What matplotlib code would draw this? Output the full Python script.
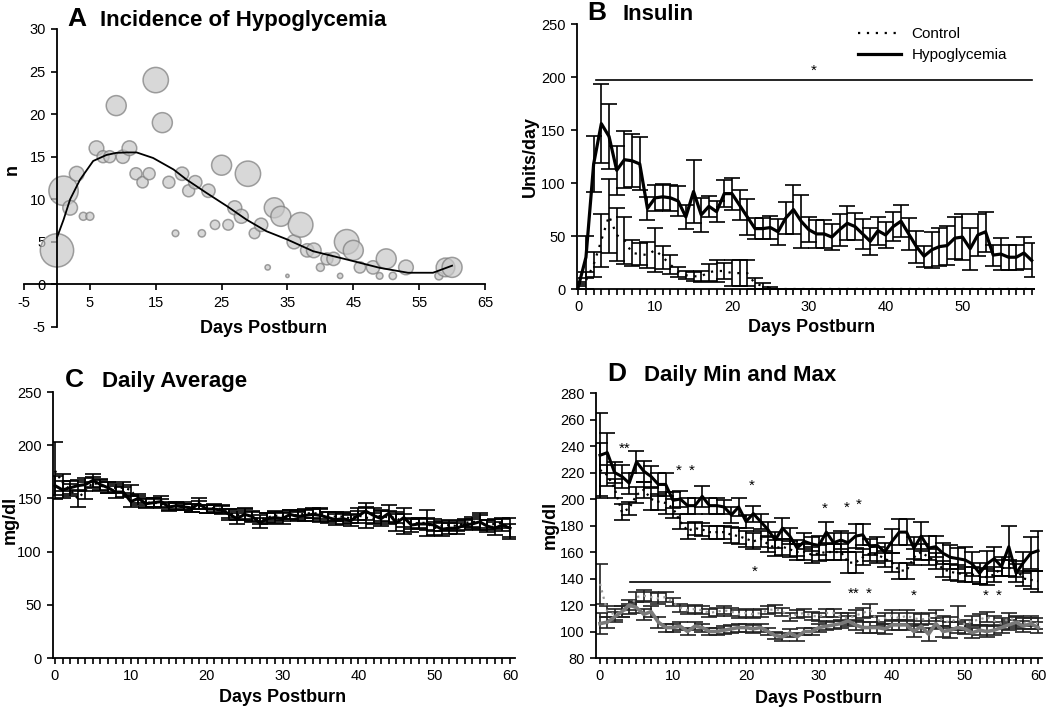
import numpy as np
import matplotlib
matplotlib.use('Agg')
import matplotlib.pyplot as plt
from matplotlib.ticker import MultipleLocator
from matplotlib.lines import Line2D

plt.rcParams['font.family'] = ['Liberation Sans', 'DejaVu Sans']
plt.rcParams['axes.unicode_minus'] = False

# ---- A: incidence of hypoglycemia (bubble chart) ----
bubble_x = [0, 1, 2, 3, 4, 5, 6, 7, 8, 9, 10, 11, 12, 13, 14, 15, 16, 17, 18, 19,
            20, 21, 22, 23, 24, 25, 26, 27, 28, 29, 30, 31, 32, 33, 34, 35, 36, 37, 38, 39,
            40, 41, 42, 43, 44, 45, 46, 48, 49, 50, 51, 53, 58, 59, 60]
bubble_y = [4, 11, 9, 13, 8, 8, 16, 15, 15, 21, 15, 16, 13, 12, 13, 24, 19, 12, 6, 13,
            11, 12, 6, 11, 7, 14, 7, 9, 8, 13, 6, 7, 2, 9, 8, 1, 5, 7, 4, 4,
            2, 3, 3, 1, 5, 4, 2, 2, 1, 3, 1, 2, 1, 2, 2]
bubble_size = [50, 44, 22, 22, 12, 12, 22, 18, 18, 30, 20, 22, 18, 17, 18, 38, 30, 18, 10, 20,
               18, 20, 11, 20, 14, 30, 16, 21, 21, 38, 16, 20, 8, 30, 30, 5, 21, 37, 20, 22,
               12, 18, 20, 8, 37, 30, 17, 20, 10, 30, 11, 22, 12, 28, 30]
trend_x = [0, 1, 2, 3.5, 5.5, 7.5, 9, 10.6, 12.1, 14.6, 17.7, 19.7, 22.7, 25.8, 28.8,
           31.8, 34.9, 38.9, 44, 49, 53.3, 57.1, 60]
trend_y = [5.5, 7.6, 10, 12.3, 14.5, 15.2, 15.45, 15.5, 15.5, 14.85, 13.5, 12.3, 10.75, 9.2, 7.6,
           6.25, 5.3, 3.9, 2.93, 1.95, 1.37, 1.37, 2.2]

# ---- B: insulin ----
days_b = np.arange(60)
insulin_hypo = [2, 30, 118, 156, 144, 112, 122, 121, 118, 76, 86, 87, 86, 83, 68, 92, 70, 78, 73, 90,
                90, 79, 68, 57, 57, 58, 54, 67, 75, 64, 56, 52, 52, 49, 56, 62, 59, 52, 45, 55,
                51, 59, 64, 52, 40, 31, 37, 40, 41, 48, 49, 38, 51, 54, 32, 33, 30, 30, 34, 27]
insulin_hypo_err = [3, 20, 26, 37, 31, 23, 27, 25, 25, 11, 12, 12, 12, 14, 11, 30, 16, 10, 10, 13,
                    15, 14, 17, 10, 10, 11, 12, 15, 23, 25, 12, 13, 13, 12, 15, 16, 13, 14, 13, 13,
                    12, 14, 15, 15, 15, 10, 17, 18, 18, 20, 22, 20, 20, 19, 10, 15, 12, 12, 15, 16]
insulin_ctrl = [5, 8, 23, 46, 69, 51, 46, 34, 33, 32, 37, 30, 23, 16, 13, 12, 12, 16, 17, 17,
                15, 15, 15, 5, 3, 1] + [0] * 34
insulin_ctrl_err = [2, 8, 12, 25, 35, 25, 22, 12, 10, 12, 21, 11, 9, 5, 4, 4, 5, 8, 10, 8,
                    12, 12, 12, 5, 3, 1] + [0] * 34

# ---- C: daily average ----
days_c = np.arange(61)
avg_hypo = [162, 158, 160, 162, 163, 167, 163, 160, 156, 156, 147, 150, 145, 146, 147, 142, 143, 142, 141, 145,
            140, 140, 139, 135, 131, 135, 133, 127, 131, 132, 131, 135, 133, 134, 135, 134, 132, 130, 131, 129,
            134, 138, 134, 131, 136, 127, 132, 125, 126, 126, 125, 121, 122, 122, 125, 126, 128, 124, 122, 125, 122]
avg_hypo_err = [9, 8, 6, 5, 6, 6, 5, 5, 6, 5, 5, 4, 4, 4, 5, 4, 3, 3, 4, 5,
                4, 4, 4, 5, 5, 5, 5, 5, 5, 5, 5, 4, 4, 5, 6, 6, 5, 5, 5, 5,
                7, 8, 7, 7, 8, 8, 9, 7, 5, 6, 6, 6, 5, 5, 5, 5, 6, 6, 6, 6, 10]
avg_ctrl = [176, 165, 158, 150, 157, 165, 162, 160, 160, 160, 158, 148, 146, 146, 145, 143, 143, 143, 141, 144,
            140, 141, 140, 136, 134, 136, 133, 130, 132, 134, 133, 135, 134, 136, 136, 136, 133, 133, 133, 131,
            134, 132, 131, 134, 132, 132, 126, 126, 127, 127, 122, 124, 125, 124, 127, 128, 128, 125, 126, 127, 120]
avg_ctrl_err = [27, 8, 6, 8, 8, 5, 5, 5, 4, 5, 5, 4, 4, 4, 4, 4, 4, 4, 4, 4,
                4, 4, 4, 4, 4, 5, 4, 4, 4, 4, 4, 4, 4, 4, 4, 5, 4, 4, 4, 4,
                4, 10, 5, 5, 6, 5, 9, 5, 5, 12, 6, 5, 5, 5, 4, 5, 8, 5, 5, 5, 6]

# ---- D: daily min and max ----
max_hypo = [233, 235, 220, 217, 212, 228, 221, 217, 211, 211, 199, 200, 195, 195, 202, 195, 195, 194, 188, 194,
            183, 189, 183, 177, 169, 178, 172, 163, 168, 166, 165, 175, 167, 169, 167, 172, 173, 164, 165, 160,
            168, 175, 175, 163, 172, 163, 164, 159, 156, 155, 154, 151, 144, 151, 155, 149, 164, 144, 152, 159, 161]
max_hypo_err = [32, 15, 8, 9, 8, 8, 8, 8, 9, 9, 6, 6, 6, 6, 8, 6, 6, 5, 6, 7,
                5, 6, 6, 6, 6, 8, 6, 6, 6, 5, 7, 8, 7, 7, 7, 9, 8, 6, 6, 7,
                9, 10, 10, 8, 11, 9, 8, 8, 9, 8, 10, 9, 8, 10, 9, 7, 16, 7, 8, 12, 15]
max_ctrl = [222, 218, 208, 190, 193, 203, 207, 200, 198, 197, 193, 183, 176, 178, 177, 175, 175, 175, 173, 172,
            170, 168, 170, 166, 163, 164, 162, 160, 160, 158, 159, 160, 160, 160, 152, 152, 156, 159, 158, 155,
            152, 146, 146, 156, 160, 156, 153, 147, 145, 144, 143, 143, 142, 141, 143, 148, 148, 147, 140, 139, 138]
max_ctrl_err = [20, 8, 7, 6, 5, 6, 6, 8, 6, 8, 7, 6, 6, 5, 5, 5, 5, 5, 6, 6,
                6, 6, 6, 6, 6, 6, 6, 6, 6, 6, 6, 6, 6, 6, 8, 8, 6, 6, 6, 6,
                7, 6, 6, 6, 6, 6, 6, 6, 6, 6, 6, 6, 6, 6, 6, 6, 6, 6, 6, 7, 8]
min_ctrl = [136, 115, 113, 115, 117, 126, 127, 126, 125, 126, 122, 118, 116, 117, 116, 114, 115, 116, 115, 113,
            114, 113, 114, 116, 117, 115, 111, 113, 114, 112, 111, 114, 114, 111, 110, 112, 114, 116, 108, 110,
            112, 110, 112, 110, 109, 110, 112, 108, 107, 110, 105, 108, 109, 111, 108, 106, 110, 108, 106, 108, 106]
min_ctrl_err = [15, 4, 4, 4, 4, 4, 4, 4, 4, 4, 3, 3, 3, 3, 3, 3, 3, 3, 3, 3,
                3, 3, 3, 3, 3, 3, 3, 3, 3, 3, 3, 3, 3, 3, 4, 4, 4, 5, 4, 4,
                4, 4, 4, 4, 4, 4, 4, 4, 4, 9, 4, 4, 4, 4, 4, 4, 4, 4, 4, 4, 4]
min_hypo = [106, 107, 111, 115, 120, 118, 113, 115, 107, 103, 103, 104, 100, 104, 103, 100, 100, 101, 102, 103,
            103, 102, 103, 100, 97, 96, 99, 96, 100, 100, 103, 104, 105, 106, 108, 105, 103, 103, 103, 102,
            105, 105, 105, 100, 104, 98, 106, 100, 101, 103, 102, 99, 101, 100, 101, 103, 105, 107, 104, 106, 103]
min_hypo_err = [8, 4, 4, 4, 4, 4, 4, 4, 4, 3, 3, 3, 3, 3, 3, 3, 3, 3, 3, 3,
                3, 3, 3, 3, 3, 3, 3, 3, 3, 3, 3, 3, 3, 3, 4, 4, 4, 4, 4, 4,
                4, 4, 4, 4, 4, 5, 4, 4, 6, 4, 4, 4, 4, 4, 4, 4, 4, 4, 4, 4, 4]

# significance marks in D: (day, value, text)
sig_d = [(3.4, 233, '**'), (10.8, 216, '*'), (12.5, 216, '*'), (20.8, 205, '*'),
         (30.8, 187, '*'), (33.8, 188, '*'), (35.4, 190, '*'), (21.2, 140, '*'),
         (34.7, 123, '**'), (36.8, 123, '*'), (43.0, 122, '*'), (52.9, 122, '*'), (54.6, 122, '*')]

fig = plt.figure(figsize=(10.5, 7.07), dpi=100)


def style(ax):
    for s in ['top', 'right']:
        ax.spines[s].set_visible(False)
    for s in ['left', 'bottom']:
        ax.spines[s].set_linewidth(1.3)
    ax.tick_params(which='both', direction='out', length=4.5, width=1.2, labelsize=10.5)


def label(ax, x, y, s, rot=0):
    ax.text(x, y, s, transform=ax.transAxes, ha='center', va='center',
            fontsize=13, fontweight='bold', rotation=rot)


eb = dict(capsize=5.5, elinewidth=1.2, capthick=1.2, ecolor='black')

# A
axA = fig.add_axes([0.0229, 0.5375, 0.439, 0.4215])
style(axA)
axA.scatter(bubble_x, bubble_y, s=(0.48 * np.array(bubble_size)) ** 2, facecolor='#c8c8c8',
            edgecolor='#7a7a7a', alpha=0.7, linewidth=1.1, zorder=2, clip_on=False)
axA.plot(trend_x, trend_y, color='black', lw=1.3, zorder=3)
axA.set_xlim(-5, 65)
axA.set_ylim(-5, 30)
axA.spines['left'].set_position(('data', 0))
axA.spines['bottom'].set_position(('data', 0))
axA.set_xticks(range(-5, 66, 10))
axA.set_yticks(range(-5, 31, 5))
label(axA, 0.52, -0.005, 'Days Postburn')
label(axA, -0.026, 0.527, 'n', rot=90)

# B
axB = fig.add_axes([0.5495, 0.5912, 0.4352, 0.3748])
style(axB)
axB.errorbar(days_b, insulin_ctrl, yerr=insulin_ctrl_err, color='black', ls=(0, (1, 3)), lw=1.6, **eb)
axB.errorbar(days_b, insulin_hypo, yerr=insulin_hypo_err, color='black', lw=2.3, **eb)
axB.set_xlim(-0.17, 59.3)
axB.set_ylim(0, 250)
axB.xaxis.set_major_locator(MultipleLocator(10))
axB.xaxis.set_minor_locator(MultipleLocator(1))
axB.yaxis.set_major_locator(MultipleLocator(50))
axB.plot([2.3, 59.1], [197.5, 197.5], color='black', lw=1.2)
axB.text(30.6, 199, '*', ha='center', va='bottom', fontsize=11)
handles = [Line2D([], [], color='black', ls=(0, (1, 3)), lw=1.6),
           Line2D([], [], color='black', lw=2.3)]
fig.legend(handles, ['Control', 'Hypoglycemia'], loc='upper left',
           bbox_to_anchor=(858 / 1050, 1 - 27 / 707), frameon=False, fontsize=11,
           handlelength=2.8, handletextpad=0.7, labelspacing=0.45, borderpad=0, borderaxespad=0)
label(axB, 0.513, -0.147, 'Days Postburn')
label(axB, -0.103, 0.5, 'Units/day', rot=90)

# C
axC = fig.add_axes([0.0505, 0.0693, 0.44, 0.3762])
style(axC)
axC.errorbar(days_c, avg_ctrl, yerr=avg_ctrl_err, color='black', ls=(0, (1, 2)), lw=1.6, **eb)
axC.errorbar(days_c, avg_hypo, yerr=avg_hypo_err, color='black', lw=2.2, **eb)
axC.set_xlim(-0.26, 60.66)
axC.set_ylim(0, 250)
axC.xaxis.set_major_locator(MultipleLocator(10))
axC.xaxis.set_minor_locator(MultipleLocator(1))
axC.yaxis.set_major_locator(MultipleLocator(50))
label(axC, 0.496, -0.147, 'Days Postburn')
label(axC, -0.093, 0.519, 'mg/dl', rot=90)

# D
axD = fig.add_axes([0.5676, 0.0693, 0.4248, 0.3748])
style(axD)
axD.errorbar(days_c, max_ctrl, yerr=max_ctrl_err, color='black', ls=(0, (1, 2)), lw=1.6, **eb)
axD.errorbar(days_c, max_hypo, yerr=max_hypo_err, color='black', lw=2.2, **eb)
axD.errorbar(days_c, min_ctrl, yerr=min_ctrl_err, color='#9a9a9a', ls=(0, (1, 2)), lw=1.6,
             capsize=5.5, elinewidth=1.2, capthick=1.2, ecolor='#222222')
axD.errorbar(days_c, min_hypo, yerr=min_hypo_err, color='#7a7a7a', lw=2.6,
             capsize=5.5, elinewidth=1.2, capthick=1.2, ecolor='#222222')
axD.set_xlim(-0.55, 60.55)
axD.set_ylim(80, 280)
axD.xaxis.set_major_locator(MultipleLocator(10))
axD.xaxis.set_minor_locator(MultipleLocator(1))
axD.yaxis.set_major_locator(MultipleLocator(20))
axD.plot([4.1, 31.5], [137.6, 137.6], color='black', lw=1.2)
for dx, dy, s in sig_d:
    axD.text(dx, dy, s, ha='center', va='bottom', fontsize=11)
label(axD, 0.5, -0.151, 'Days Postburn')
label(axD, -0.103, 0.502, 'mg/dl', rot=90)

# panel titles
titles = [(67, 26, 'A', 100, 'Incidence of Hypoglycemia'),
          (587, 20, 'B', 623, 'Insulin'),
          (65, 387, 'C', 102, 'Daily Average'),
          (607, 381, 'D', 644, 'Daily Min and Max')]
for lx, ly, letter, tx, txt in titles:
    fig.text(lx / 1050, 1 - ly / 707, letter, fontsize=19, fontweight='bold', va='baseline')
    fig.text(tx / 1050, 1 - ly / 707, txt, fontsize=16, fontweight='bold', va='baseline')

fig.savefig('out.png', dpi=100)
